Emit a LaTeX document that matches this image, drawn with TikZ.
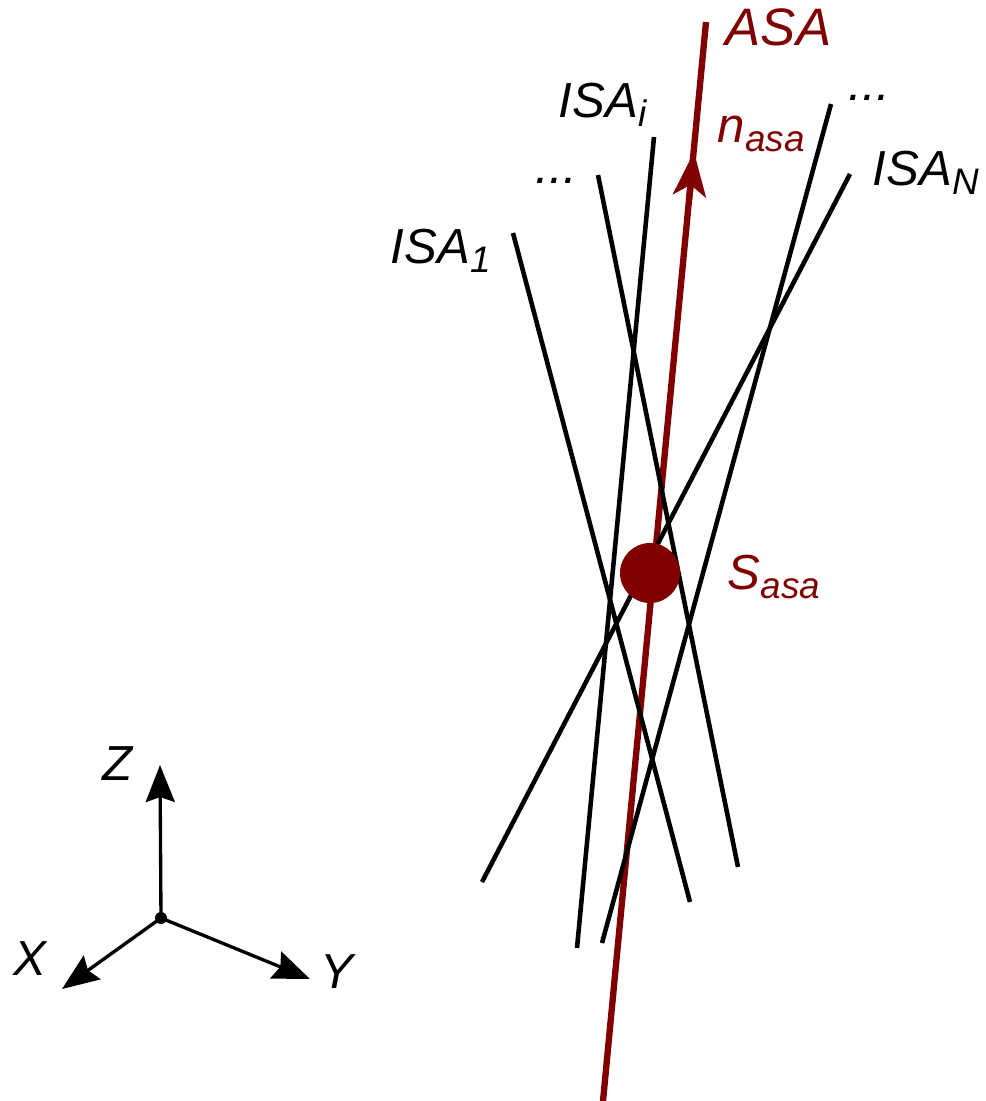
\documentclass[tikz,border=0pt]{standalone}
\usepackage{fontspec}
\setsansfont{Liberation Sans}
\usetikzlibrary{arrows.meta}
\definecolor{asared}{RGB}{128,0,0}
\newcommand{\lowsub}[1]{\raisebox{-0.2em}{\fontsize{10.5}{12}\selectfont #1}}
\tikzset{
  isa/.style={line width=1.3pt},
  asaline/.style={asared, line width=1.8pt},
  axis/.style={line width=0.95pt, -{Stealth[length=3.7mm,width=2.9mm,inset=0.5mm]}},
  lbl/.style={font=\fontsize{14}{17}\selectfont\sffamily\itshape, inner sep=0pt, anchor=base west},
}
\begin{document}
\begin{tikzpicture}[x=0.1mm,y=-0.1mm]
  \useasboundingbox (0,0) rectangle (986,1101);
  % axes
  \coordinate (o) at (161,918);
  \coordinate (ztip) at (160,765);
  \coordinate (ytip) at (310,979);
  \coordinate (xtip) at (62,989);
  \draw[axis] (o) -- (ztip);
  \draw[axis] (o) -- (ytip);
  \draw[axis] (o) -- (xtip);
  \fill (o) circle (6);
  \node[lbl] (zlab) at (102,780) {Z};
  \node[lbl] (ylab) at (320,988) {Y};
  \node[lbl] (xlab) at (13,975) {X};
  % ASA
  \coordinate (asabot) at (603,1101);
  \coordinate (asatop) at (706,22);
  \coordinate (nfrom) at (689,200);
  \coordinate (ntip) at (694,152);
  \draw[asaline] (asabot) -- (asatop);
  \draw[asaline, -{Stealth[length=4.4mm,width=3.3mm,inset=1.1mm]}] (nfrom) -- (ntip);
  % ISA lines
  \coordinate (a1) at (513,233);   \coordinate (b1) at (690,902);
  \coordinate (a2) at (598,175);   \coordinate (b2) at (738,867);
  \coordinate (ai) at (654,137);   \coordinate (bi) at (577,948);
  \coordinate (a3) at (831,104);   \coordinate (b3) at (602,943);
  \coordinate (aN) at (850,174);   \coordinate (bN) at (482,882);
  \foreach \p in {1,2,i,3,N}
    \draw[isa] (a\p) -- (b\p);
  \fill[asared] (650,573) circle (30);
  % labels
  \node[lbl] (isa1) at (390,263) {ISA\lowsub{1}};
  \node[lbl] (dotsl) at (535,183) {...};
  \node[lbl] (isai) at (558,117) {ISA\lowsub{i}};
  \node[lbl] (dotsr) at (848,100) {...};
  \node[lbl] (isaN) at (872,185) {ISA\lowsub{N}};
  \node[lbl, asared, font=\fontsize{15}{18}\selectfont\sffamily\itshape] (asalab) at (725,45) {ASA};
  \node[lbl, asared] (nlab) at (717,142) {n\lowsub{asa}};
  \node[lbl, asared] (slab) at (727,589) {S\lowsub{asa}};
\end{tikzpicture}
\end{document}
